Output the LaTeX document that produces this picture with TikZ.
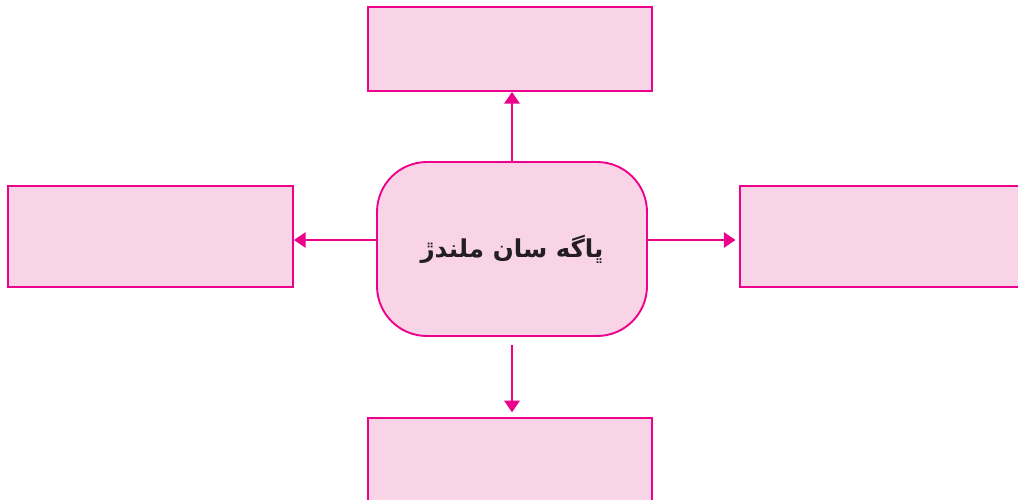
\documentclass[tikz,border=0pt]{standalone}
\usepackage{fontspec}
\newfontfamily\arabicfont[Script=Arabic]{DejaVu Sans}
\TeXXeTstate=1
\usetikzlibrary{arrows.meta}
\definecolor{rim}{HTML}{EC008C}
\definecolor{paleink}{HTML}{F9D4E6}
\definecolor{inktext}{HTML}{231F20}
\tikzstyle{panel}=[rectangle,fill=paleink,draw=rim,line width=1.6pt,inner sep=0pt]
\tikzstyle{hub}=[rectangle,rounded corners=1.5cm,fill=paleink,draw=rim,line width=1.6pt,inner sep=0pt,minimum width=8.1cm,minimum height=5.22cm,text=inktext]
\tikzstyle{link}=[-{Triangle[width=13pt,length=10pt]},draw=rim,fill=rim,line width=2pt]

\begin{document}
\begin{tikzpicture}[x=0.03cm,y=-0.03cm]
	\useasboundingbox (0,0) rectangle (1018,499);
	\clip (0,0) rectangle (1018,499);
	% boxes
	\node [style=panel,minimum width=8.52cm,minimum height=2.52cm] (top) at (510,49) {};
	\node [style=panel,minimum width=8.55cm,minimum height=3.03cm] (left) at (150.5,236.5) {};
	\node [style=panel,minimum width=9cm,minimum height=3.03cm] (right) at (890,236.5) {};
	\node [style=panel,minimum width=8.52cm,minimum height=3.6cm] (bottom) at (510,478) {};
	\node [style=hub] (hub) at (512,249) {\arabicfont\bfseries\fontsize{21}{26}\selectfont\beginR ڀاگه سان ملندڙ\endR};
	\coordinate (mid) at (512,240);
	% arrows
	\draw [style=link] (hub.north) to (top.south -| hub.north);
	\draw [style=link] (hub.west |- mid) to (left.east |- mid);
	\draw [style=link,shorten >=3pt] (hub.east |- mid) to (right.west |- mid);
	\draw [style=link,shorten <=7pt,shorten >=4pt] (hub.south) to (bottom.north -| hub.south);
\end{tikzpicture}
\end{document}
